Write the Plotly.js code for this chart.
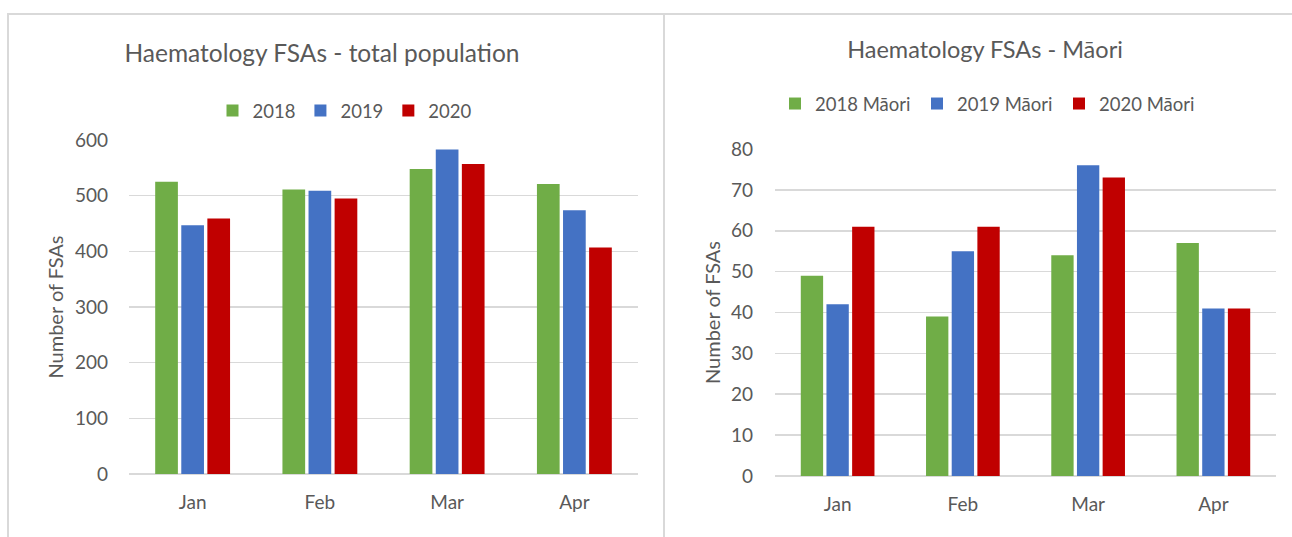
<!DOCTYPE html>
<html>
<head>
<meta charset="utf-8">
<script src="https://cdn.plot.ly/plotly-3.0.1.min.js"></script>
<style>
  html, body { margin: 0; padding: 0; background: #ffffff; }
  #wrap { position: relative; width: 1292px; height: 537px; overflow: hidden; background: #fff; }
  #c1 { position: absolute; left: 0; top: 0; width: 664px; height: 537px; }
  #c2 { position: absolute; left: 665px; top: 0; width: 627px; height: 537px; }
  .bline { position: absolute; background: #d9d9d9; }
</style>
</head>
<body>
<div id="wrap">
  <div id="c1"></div>
  <div id="c2"></div>
  <div class="bline" style="left:7px; top:13px; width:1285px; height:1.5px;"></div>
  <div class="bline" style="left:7px; top:13px; width:1.5px; height:524px;"></div>
  <div class="bline" style="left:663px; top:13px; width:1.5px; height:524px;"></div>
</div>
<script>
// ---- data ----
const months = ["Jan", "Feb", "Mar", "Apr"];

const total2018 = [525, 511, 548, 521];
const total2019 = [447, 509, 583, 474];
const total2020 = [459, 495, 557, 407];

const maori2018 = [49, 39, 54, 57];
const maori2019 = [42, 55, 76, 41];
const maori2020 = [61, 61, 73, 41];

const seriesNamesTotal = ["2018", "2019", "2020"];
const seriesNamesMaori = ["2018 Māori", "2019 Māori", "2020 Māori"];

const yTicksTotal = [0, 100, 200, 300, 400, 500, 600];
const yTicksMaori = [0, 10, 20, 30, 40, 50, 60, 70, 80];

// ---- style ----
const colors = ["#70AD47", "#4472C4", "#C00000"];
const fontFam = "Lato, 'Open Sans', sans-serif";
const txt = "#595959";

function traces(names, vals) {
  return vals.map((v, i) => ({
    type: "bar",
    x: months,
    y: v,
    name: names[i],
    marker: { color: colors[i], line: { width: 0 } },
    hoverinfo: "x+y+name"
  }));
}

function layout(opts) {
  const leg = {
    orientation: "h",
    x: opts.legX, xref: "container", xanchor: "center",
    y: opts.legY, yref: "container", yanchor: "middle",
    font: { family: fontFam, size: 18.5, color: txt },
    itemclick: false, itemdoubleclick: false,
    traceorder: "normal"
  };
  if (opts.entryW) { leg.entrywidth = opts.entryW; leg.entrywidthmode = "pixels"; }
  return {
    width: opts.w,
    height: 537,
    paper_bgcolor: "rgba(0,0,0,0)",
    plot_bgcolor: "rgba(0,0,0,0)",
    font: { family: fontFam, color: txt, size: 19 },
    margin: opts.margin,
    barmode: "group",
    bargap: 0.385,
    bargroupgap: 0.13,
    title: {
      text: opts.title,
      font: { family: fontFam, size: opts.titleSize, color: txt },
      x: opts.titleX, xref: "container", xanchor: "center",
      y: opts.titleY, yref: "container", yanchor: "middle"
    },
    showlegend: true,
    legend: leg,
    xaxis: {
      type: "category",
      showgrid: false,
      zeroline: false,
      showline: false,
      ticks: "",
      tickfont: { family: fontFam, size: 19, color: txt },
      ticklabelstandoff: 15
    },
    yaxis: {
      range: opts.yrange,
      tickvals: opts.ytv,
      showgrid: true,
      gridcolor: "#d9d9d9",
      gridwidth: 1.6,
      zeroline: true,
      zerolinecolor: "#d9d9d9",
      zerolinewidth: 1.6,
      showline: false,
      ticks: "",
      tickfont: { family: fontFam, size: 19, color: txt },
      ticklabelstandoff: opts.yStand,
      title: {
        text: "Number of FSAs",
        font: { family: fontFam, size: 20, color: txt },
        standoff: opts.yTitleStand
      },
      automargin: false
    }
  };
}

Plotly.newPlot("c1",
  traces(seriesNamesTotal, [total2018, total2019, total2020]),
  layout({
    w: 664,
    margin: { l: 129, r: 26, t: 140, b: 63, pad: 0 },
    title: "Haematology FSAs - total population",
    titleSize: 24.5,
    titleX: 322 / 664, titleY: 1 - 53 / 537,
    legX: 345 / 664, legY: 1 - 111 / 537,
    entryW: 0,
    yrange: [0, 600], ytv: yTicksTotal,
    yStand: 20, yTitleStand: 5
  }),
  { staticPlot: true, displayModeBar: false }
);

Plotly.newPlot("c2",
  traces(seriesNamesMaori, [maori2018, maori2019, maori2020]),
  layout({
    w: 627,
    margin: { l: 110, r: 16, t: 149, b: 60.5, pad: 0 },
    title: "Haematology FSAs - Māori",
    titleSize: 23.5,
    titleX: 320 / 627, titleY: 1 - 50 / 537,
    legX: 323 / 627, legY: 1 - 104 / 537,
    entryW: 97,
    yrange: [0, 80], ytv: yTicksMaori,
    yStand: 21, yTitleStand: 4
  }),
  { staticPlot: true, displayModeBar: false }
);
</script>
</body>
</html>
